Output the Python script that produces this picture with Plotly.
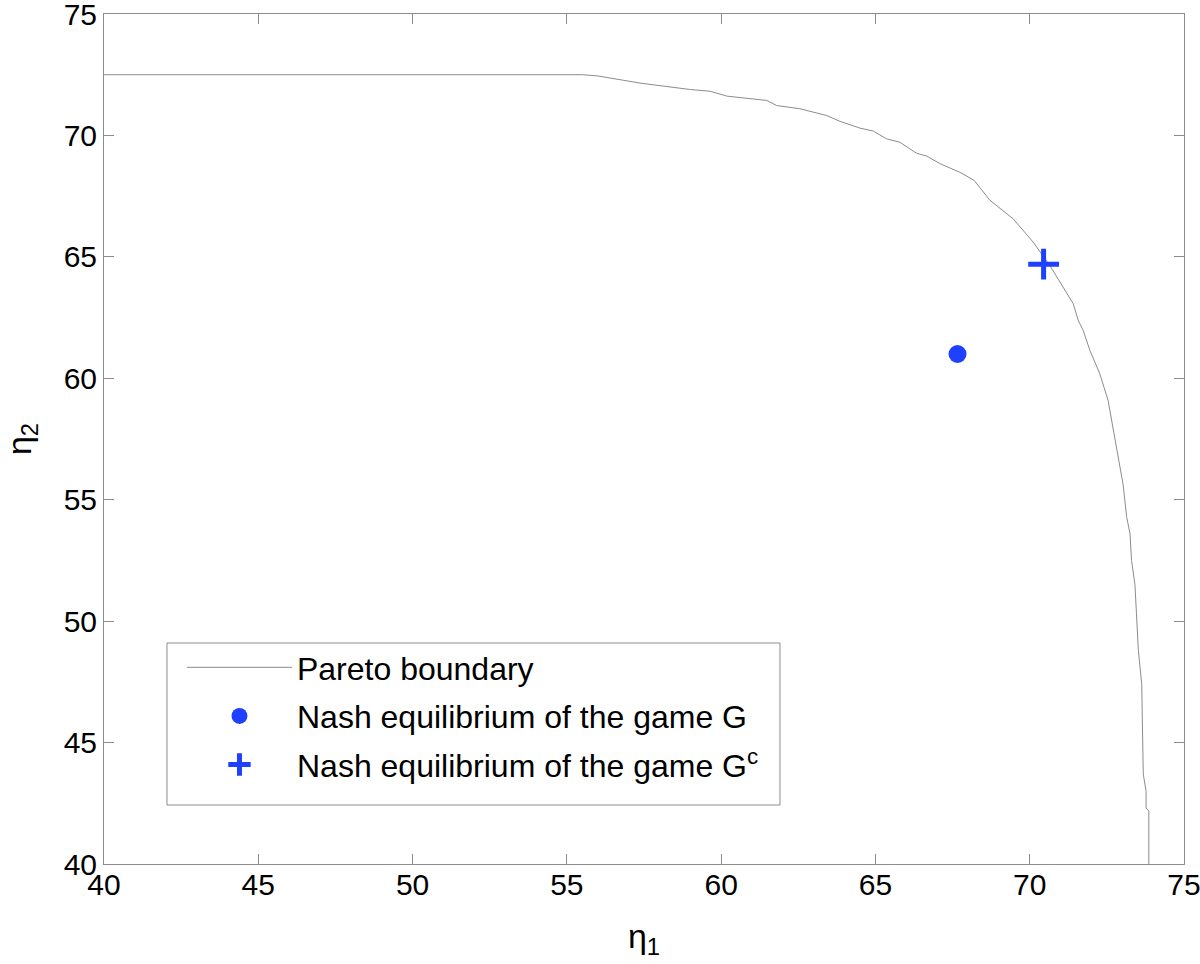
import plotly.graph_objects as go

# Pareto boundary (eta1, eta2)
pareto_eta1 = [40.0, 55.5, 56.0, 57.4, 59.0, 59.64, 60.18, 61.48, 61.8, 62.55, 63.42, 63.85,
               64.5, 64.93, 65.36, 65.79, 66.33, 66.66, 67.09, 67.74, 68.2, 68.71, 69.46,
               70.11, 70.65, 71.08, 71.41, 71.57, 71.73, 71.95, 72.27, 72.54, 72.7, 72.86,
               73.03, 73.14, 73.25, 73.3, 73.41, 73.46, 73.52, 73.63, 73.68, 73.77, 73.77,
               73.86, 73.86]
pareto_eta2 = [72.5, 72.5, 72.45, 72.15, 71.89, 71.82, 71.62, 71.44, 71.23, 71.1, 70.82, 70.58,
               70.3, 70.18, 69.86, 69.72, 69.27, 69.15, 68.84, 68.48, 68.15, 67.33, 66.57,
               65.61, 64.65, 63.76, 63.07, 62.39, 61.98, 61.15, 60.19, 59.09, 58.0, 56.9,
               55.6, 54.3, 53.6, 52.5, 51.5, 50.3, 48.8, 47.4, 43.7, 43.0, 42.3,
               42.2, 40.0]

nash_G = (67.66, 61.0)
nash_Gc = (70.45, 64.7)

tick_vals = [40, 45, 50, 55, 60, 65, 70, 75]

BLUE = "#2040ff"
GRAY = "#8c8c8c"
FONT = "Arial, Liberation Sans, sans-serif"

fig = go.Figure()
fig.add_trace(go.Scatter(x=pareto_eta1, y=pareto_eta2, mode="lines",
                         line=dict(color=GRAY, width=1),
                         name="Pareto boundary", legendgroup="a"))
fig.add_trace(go.Scatter(x=[nash_G[0]], y=[nash_G[1]], mode="markers",
                         marker=dict(symbol="circle", size=18, color=BLUE),
                         name="Nash equilibrium of the game G", legendgroup="b"))
fig.add_trace(go.Scatter(x=[nash_Gc[0]], y=[nash_Gc[1]], mode="markers",
                         marker=dict(symbol="cross-thin", size=22, color=BLUE,
                                     line=dict(color=BLUE, width=5)),
                         name="Nash equilibrium of the game G<sup>c</sup>", legendgroup="c"))

axis_common = dict(range=[40, 75], tickvals=tick_vals, ticks="inside", ticklen=10,
                   tickcolor=GRAY, showline=True, linecolor=GRAY, linewidth=1,
                   mirror="allticks", showgrid=False, zeroline=False,
                   ticklabeloverflow="allow",
                   tickfont=dict(family=FONT, size=30, color="black"))

# legend frame
fig.add_shape(type="rect", xref="paper", yref="paper",
              x0=0.0583, x1=0.6259, y0=0.0694, y1=0.26,
              line=dict(color=GRAY, width=1), fillcolor="white", layer="above")

fig.update_layout(
    width=1200, height=964,
    margin=dict(l=104, r=16, t=14, b=100),
    paper_bgcolor="white", plot_bgcolor="white",
    xaxis=dict(**axis_common, automargin=False, ticklabelstandoff=-6,
               title=dict(text="η<sub>1</sub>",
                          font=dict(family=FONT, size=34, color="black"),
                          standoff=24)),
    yaxis=dict(**axis_common, automargin="left",
               title=dict(text="η<sub>2</sub>",
                          font=dict(family=FONT, size=34, color="black"),
                          standoff=22)),
    legend=dict(x=0.0722, y=0.2635, xanchor="left", yanchor="top",
                bgcolor="rgba(0,0,0,0)", borderwidth=0,
                font=dict(family=FONT, size=32, color="black"),
                itemwidth=105, tracegroupgap=4),
    showlegend=True,
)

fig.write_html("out.html", config={"displayModeBar": False},
               post_script="document.body.style.margin='0px';")
